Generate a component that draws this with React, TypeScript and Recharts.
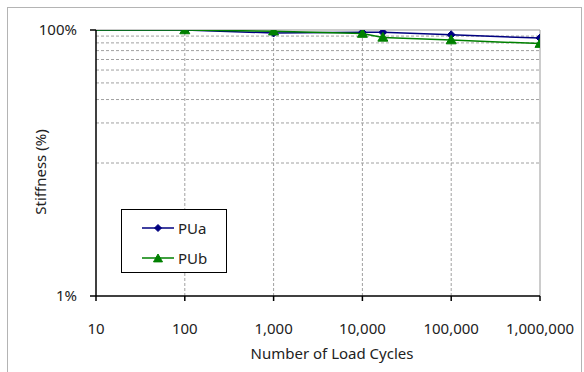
import { LineChart, Line, XAxis, YAxis, ReferenceLine, Legend, Label } from 'recharts';

// load cycles, the first entry is where the curves leave the left axis (no marker drawn there)
const cycles = [10, 100, 1000, 10000, 17000, 100000, 1000000];
const puaValues = [100, 100, 95, 96, 96, 92, 87];
const pubValues = [100, 100, 98, 94, 88, 84, 79];

const xTicks = [10, 100, 1000, 10000, 100000, 1000000];
const xGridLines = [100, 1000, 10000, 100000];
const yTicks = [1, 100];
const yGridLines = [10, 20, 30, 40, 50, 60, 70, 80, 90];

const NAVY = '#000080';
const GREEN = '#008000';
const FONT = "'Noto Sans', 'DejaVu Sans', sans-serif";

const rows = cycles.map((c, i) => ({ cycles: c, PUa: puaValues[i], PUb: pubValues[i] }));

function Diamond({ cx, cy, r = 4 }: { cx: number; cy: number; r?: number }) {
  return <path d={`M${cx},${cy - r}L${cx + r},${cy}L${cx},${cy + r}L${cx - r},${cy}Z`} fill={NAVY} stroke={NAVY} />;
}

function Triangle({ cx, cy, r = 5 }: { cx: number; cy: number; r?: number }) {
  return <path d={`M${cx},${cy - r}L${cx + r},${cy + r * 0.75}L${cx - r},${cy + r * 0.75}Z`} fill={GREEN} stroke={GREEN} />;
}

const puaDot = (p: any) =>
  p.payload.cycles < 100 ? <g key={`a${p.index}`} /> : <Diamond key={`a${p.index}`} cx={p.cx} cy={p.cy} />;
const pubDot = (p: any) =>
  p.payload.cycles < 100 ? <g key={`b${p.index}`} /> : <Triangle key={`b${p.index}`} cx={p.cx} cy={p.cy} />;

function LegendBox({ payload }: any) {
  return (
    <div
      style={{
        width: 106,
        height: 64,
        boxSizing: 'border-box',
        border: '1px solid #000',
        background: '#fff',
        padding: '6px 0 0 19px',
        fontFamily: FONT,
        fontSize: 15,
        color: '#222',
      }}
    >
      {(payload || []).map((entry: any) => (
        <div key={entry.value} style={{ display: 'flex', alignItems: 'center', height: 24, marginBottom: 6 }}>
          <svg width={34} height={12}>
            <line x1={1} y1={6} x2={33} y2={6} stroke={entry.color} strokeWidth={1.5} />
            {entry.value === 'PUa' ? <Diamond cx={17} cy={6} r={3.5} /> : <Triangle cx={17} cy={6.5} r={4.5} />}
          </svg>
          <span style={{ marginLeft: 3 }}>{entry.value}</span>
        </div>
      ))}
    </div>
  );
}

export default function App() {
  return (
    <div style={{ position: 'fixed', left: 0, top: 0, width: 584, height: 372, overflow: 'hidden', background: '#fff' }}>
      <div
        style={{
          position: 'absolute',
          left: 7,
          top: 7,
          width: 575,
          height: 400,
          boxSizing: 'border-box',
          border: '1px solid #b4b4b4',
        }}
      />
      <div style={{ position: 'absolute', left: 0, top: 0 }}>
        <LineChart
          width={584}
          height={372}
          data={rows}
          margin={{ top: 30, right: 44, bottom: 26, left: 0 }}
          style={{ fontFamily: FONT }}
        >
          <XAxis
            dataKey="cycles"
            type="number"
            scale="log"
            domain={[10, 1000000]}
            allowDataOverflow
            ticks={xTicks}
            interval={0}
            height={50}
            tickSize={5}
            tickMargin={22}
            axisLine={{ stroke: '#000', strokeWidth: 1.5 }}
            tickLine={{ stroke: '#000', strokeWidth: 1.5 }}
            tick={{ fill: '#222', fontSize: 15 }}
            tickFormatter={(v: number) => v.toLocaleString('en-US')}
          >
            <Label
              content={({ viewBox }: any) => (
                <text x={viewBox.x + viewBox.width / 2 + 14} y={viewBox.y + 63} textAnchor="middle" fill="#222" fontSize={15}>
                  Number of Load Cycles
                </text>
              )}
            />
          </XAxis>
          <YAxis
            type="number"
            scale="log"
            domain={[1, 100]}
            allowDataOverflow
            ticks={yTicks}
            interval={0}
            width={96}
            tickSize={6}
            tickMargin={13}
            axisLine={{ stroke: '#000', strokeWidth: 1.5 }}
            tickLine={{ stroke: '#000', strokeWidth: 1.5 }}
            tick={{ fill: '#222', fontSize: 15 }}
            tickFormatter={(v: number) => `${v}%`}
          >
            <Label
              content={({ viewBox }: any) => {
                const x = viewBox.x + 42;
                const y = viewBox.y + viewBox.height / 2 + 9;
                return (
                  <text x={x} y={y} transform={`rotate(-90 ${x} ${y})`} textAnchor="middle" dominantBaseline="middle" fill="#222" fontSize={15}>
                    Stiffness (%)
                  </text>
                );
              }}
            />
          </YAxis>
          {yGridLines.map((v) => (
            <ReferenceLine key={`y${v}`} y={v} stroke="#a0a0a0" strokeDasharray="3 2" />
          ))}
          {xGridLines.map((v) => (
            <ReferenceLine key={`x${v}`} x={v} stroke="#a0a0a0" strokeDasharray="3 2" />
          ))}
          <ReferenceLine y={100} stroke="#999" />
          <ReferenceLine x={1000000} stroke="#999" />
          <Legend
            layout="vertical"
            align="center"
            verticalAlign="middle"
            content={<LegendBox />}
            wrapperStyle={{ left: 121, top: 209, width: 106, height: 64 }}
          />
          <Line dataKey="PUa" name="PUa" stroke={NAVY} strokeWidth={1.5} dot={puaDot} isAnimationActive={false} />
          <Line dataKey="PUb" name="PUb" stroke={GREEN} strokeWidth={1.5} dot={pubDot} isAnimationActive={false} />
        </LineChart>
      </div>
    </div>
  );
}
